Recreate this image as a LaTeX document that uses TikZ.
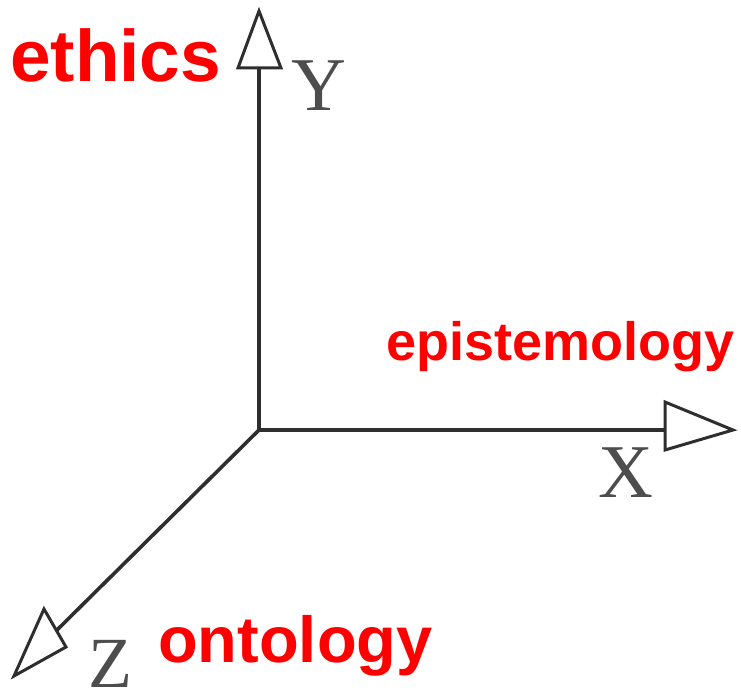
\documentclass[tikz,border=0pt]{standalone}
\usepackage{fontspec}
\setmainfont{Liberation Serif}
\newfontfamily\labelsans{Liberation Sans}
\definecolor{axisgray}{HTML}{2E2E2E}
\definecolor{labelred}{HTML}{FF0000}
\tikzset{
  axis/.style={draw=axisgray, line width=3.6pt},
  tiphead/.style={draw=axisgray, line width=3pt, fill=white, line join=miter},
  redlabel/.style={text=labelred, inner sep=0pt, anchor=base west, font=\labelsans\bfseries},
  axlabel/.style={text=axisgray!85, inner sep=0pt, anchor=base west},
}
\begin{document}
\begin{tikzpicture}[x=1pt, y=-1pt]
\useasboundingbox (0,0) rectangle (741,698);
\coordinate (O) at (259,430);
\coordinate (Ybase) at (259,68);
\coordinate (Xbase) at (665,430);
\coordinate (Zbase) at (57,630);
% axes
\draw[axis] (O) -- (Ybase);
\draw[axis] ([xshift=-1.8pt]O) -- (Xbase);
\draw[axis] (O) -- (Zbase);
% open arrow heads
\coordinate (Ytip) at (259,11);
\coordinate (Yl) at (238,68);
\coordinate (Yr) at (281,68);
\draw[tiphead] (Yl) -- (Ytip) -- (Yr) -- cycle;
\coordinate (Xtip) at (733,430);
\coordinate (Xu) at (665,402);
\coordinate (Xd) at (665,450);
\draw[tiphead] (Xu) -- (Xtip) -- (Xd) -- cycle;
\coordinate (Ztip) at (14,676);
\coordinate (Zu) at (44,609);
\coordinate (Zd) at (66,647);
\draw[tiphead] (Zu) -- (Ztip) -- (Zd) -- cycle;
% axis letters
\node[axlabel, font=\fontsize{76}{76}\selectfont] (ly) at (291,111) {Y};
\node[axlabel, font=\fontsize{76}{76}\selectfont] (lx) at (598,497) {X};
\node[axlabel, font=\fontsize{72}{72}\selectfont] (lz) at (88,687) {Z};
% red labels
\node[redlabel, font=\labelsans\bfseries\fontsize{73}{73}\selectfont] (ethics) at (10,82) {ethics};
\node[redlabel, font=\labelsans\bfseries\fontsize{54}{54}\selectfont] (epist) at (386,360) {epistemology};
\node[redlabel, font=\labelsans\bfseries\fontsize{65}{65}\selectfont] (onto) at (158,662) {ontology};
\end{tikzpicture}
\end{document}
